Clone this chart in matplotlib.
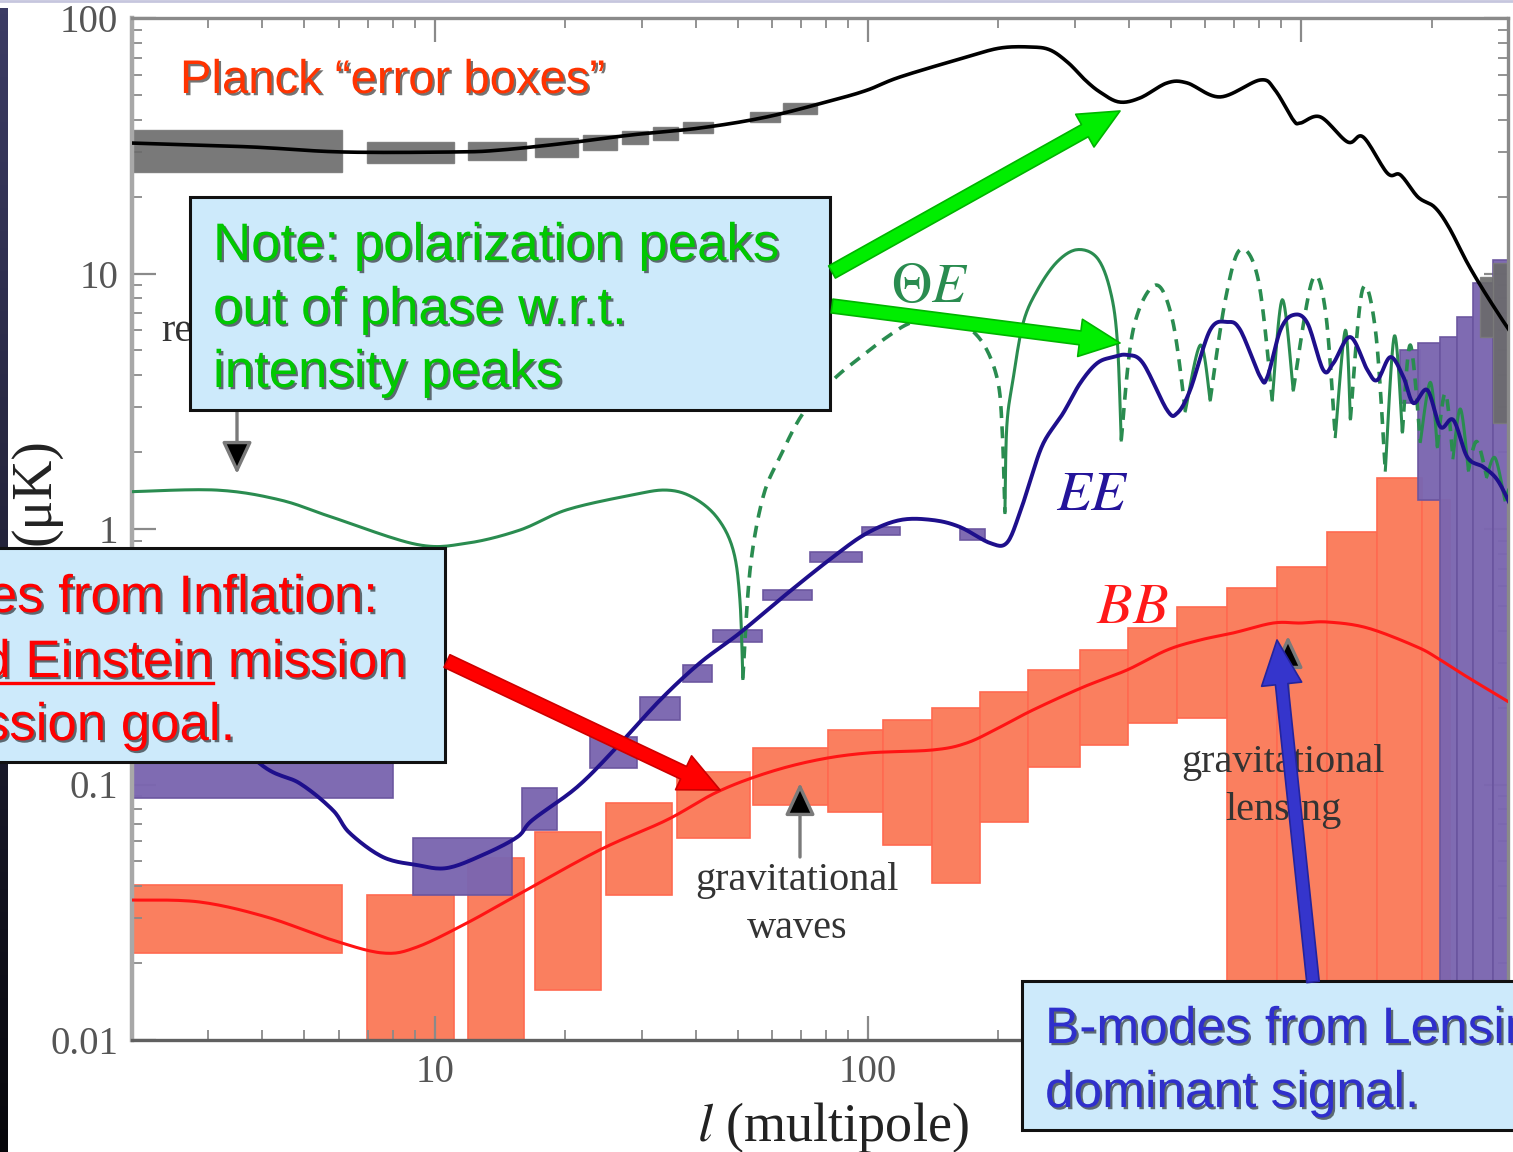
import numpy as np
import matplotlib.pyplot as plt
import matplotlib.patheffects as pe
from matplotlib.patches import Rectangle, FancyArrowPatch, ArrowStyle
from matplotlib.lines import Line2D
from matplotlib.ticker import FuncFormatter, NullFormatter
from matplotlib.colors import LinearSegmentedColormap

plt.rcParams['font.family'] = ['Liberation Serif', 'DejaVu Serif']
plt.rcParams['mathtext.fontset'] = 'stix'

# ---- values: multipole l and amplitude (uK) ----
# temperature spectrum
tt_ell = [2, 3.74, 6.1, 11.1, 14.1, 20.2, 28.6, 40.9, 58.4, 83, 99.5, 118.6, 169, 202,
          237, 263, 290, 317, 343, 380, 425, 490, 545, 650, 804, 870, 958, 995, 1107,
          1280, 1390, 1580, 1694, 1860, 2030, 2190, 2417, 2630, 2881, 3040]
tt_val = [32.4, 31.3, 29.9, 29.9, 30.4, 32.4, 34.9, 37.1, 41.0, 47.7, 52.2, 58.8, 70.4, 76.3,
          77.0, 75, 66.7, 57.2, 51.3, 46.9, 48.7, 55.7, 55.7, 49.1, 57.2, 52.2, 39.9, 38.8, 41.0,
          32.7, 34.2, 24.7, 24.3, 19.9, 18.2, 15.2, 11.0, 8.62, 6.76, 5.9]

# temperature-polarization cross spectrum (signed; sign changes at repeated l)
te_ell = [2, 3.14, 4.39, 5.81, 9.09, 11.86, 15.7, 20.2, 28.6, 34.3, 39.4, 44.8, 48.8, 50.6, 51.4,
          51.4, 53.4, 57.2, 62.6, 70.8, 83.0, 94.3, 110.6, 125, 144, 163, 184, 199, 204, 207,
          207, 209, 216, 228, 246, 273, 304, 338, 362, 376, 384,
          384, 409, 460, 504, 540,
          540, 585, 616,
          616, 668, 723, 796, 857,
          857, 904, 958,
          958, 1060, 1136, 1198,
          1198, 1264, 1298,
          1298, 1383, 1483, 1563,
          1563, 1640, 1711,
          1711, 1785, 1883,
          1883, 1986, 2060,
          2060, 2150, 2240,
          2240, 2330, 2430,
          2430, 2540, 2680,
          2680, 2800, 2950,
          2950, 3100]
te_val = [1.40, 1.42, 1.30, 1.11, 0.87, 0.88, 0.99, 1.19, 1.36, 1.42, 1.33, 1.11, 0.83, 0.53, 0.26,
          -0.26, -0.69, -1.33, -1.91, -2.84, -3.83, -4.59, -5.64, -6.40, -6.76, -6.46, -5.35, -3.83, -2.44, -1.16,
          1.16, 2.51, 3.83, 6.40, 8.62, 11.1, 12.4, 11.5, 8.62, 5.49, 2.23,
          -2.23, -6.0, -9.0, -6.6, -2.9,
          2.9, 5.25, 3.2,
          -3.2, -7.9, -12.4, -9.4, -3.2,
          3.2, 7.9, 3.5,
          -3.5, -9.4, -7.2, -2.3,
          2.3, 6.0, 2.7,
          -2.7, -8.6, -6.0, -1.7,
          1.7, 5.7, 2.4,
          -2.4, -5.25, -2.2,
          2.2, 3.75, 2.1,
          -2.1, -3.4, -1.9,
          1.9, 2.95, 1.7,
          -1.7, -2.2, -1.6,
          1.6, 1.9, 1.3,
          -1.3, -1.6]

# E-mode polarization
ee_ell = [2, 2.8, 3.94, 4.88, 5.81, 6.36, 7.59, 9.09, 10.66, 12.9, 15.5, 16.8, 21.3, 26.3, 33.1,
          40.9, 50.6, 63.6, 83, 99.5, 118.6, 141, 163, 191, 209, 224, 237, 254, 282, 309, 338,
          368, 396, 431, 490, 517, 554, 616, 675, 723, 804, 835, 895, 958, 1033, 1124, 1186,
          1298, 1421, 1498, 1606, 1720, 1814, 1954, 2094, 2244, 2417, 2630, 2836, 3040]
ee_val = [0.28, 0.22, 0.121, 0.101, 0.0795, 0.0646, 0.052, 0.0484, 0.0471, 0.053, 0.0623, 0.0726,
          0.0977, 0.140, 0.214, 0.299, 0.392, 0.542, 0.777, 0.964, 1.084, 1.084, 1.018, 0.882,
          0.882, 1.156, 1.555, 2.17, 2.84, 3.73, 4.46, 4.71, 4.80, 4.46, 2.92, 2.84, 3.50, 6.01,
          6.46, 6.01, 3.94, 3.94, 6.01, 6.88, 6.40, 4.19, 4.46, 5.64, 4.19, 3.83, 4.71, 3.94,
          3.11, 3.50, 2.51, 2.67, 1.91, 1.75, 1.555, 1.24]

# B-mode polarization
bb_ell = [2, 2.86, 4.09, 5.81, 7.59, 9.09, 11.86, 15.5, 24.0, 34.3, 44.8, 58.4, 76.2, 99.5, 141,
          169, 202, 240, 314, 396, 490, 585, 697, 861, 995, 1148, 1421, 1854, 2095, 2417, 3039]
bb_val = [0.0353, 0.0347, 0.0303, 0.0246, 0.0219, 0.0231, 0.0287, 0.0369, 0.0554, 0.0726, 0.0934,
          0.111, 0.1247, 0.1328, 0.1365, 0.1454, 0.168, 0.1956, 0.2407, 0.2806, 0.336, 0.368,
          0.392, 0.4285, 0.4285, 0.4325, 0.41, 0.345, 0.307, 0.2634, 0.2085]

# Planck error boxes: l range and amplitude range
tt_box_lo = [2, 6.97, 11.9, 17.0, 22.0, 27.0, 31.9, 37.4, 53.4, 63.7, 2590, 2776]
tt_box_hi = [6.10, 11.1, 16.2, 21.4, 26.3, 31.0, 36.4, 43.9, 62.7, 76.2, 2776, 3100]
tt_box_top = [36.5, 32.7, 32.7, 33.9, 34.9, 36.1, 37.4, 39.2, 43.0, 46.5, 9.69, 11.0]
tt_box_bot = [24.9, 27.1, 27.8, 28.6, 30.4, 32.1, 33.3, 35.5, 39.2, 42.0, 5.64, 2.60]

ee_box_lo = [2, 8.89, 15.9, 22.8, 29.7, 37.4, 43.9, 57.2, 73.5, 96.8, 163, 1693, 1862, 2094, 2292, 2497, 2776]
ee_box_hi = [8.0, 15.06, 19.1, 29.3, 36.8, 43.6, 56.9, 74.3, 96.8, 118.6, 186, 1883, 2094, 2292, 2497, 2776, 3100]
ee_box_top = [0.30, 0.0618, 0.0969, 0.1535, 0.220, 0.2937, 0.4026, 0.577, 0.813, 1.018, 1.0,
              5.02, 5.35, 5.64, 6.76, 9.18, 11.3]
ee_box_bot = [0.0886, 0.0369, 0.0664, 0.116, 0.179, 0.252, 0.361, 0.527, 0.743, 0.947, 0.906,
              3.11, 1.30, 0.005, 0.005, 0.005, 0.005]

bb_box_lo = [2, 6.97, 11.9, 17.0, 24.9, 36.2, 54.3, 80.8, 108.3, 140.5, 181.4, 234, 309, 399,
             517, 675, 880, 1148, 1498, 1903]
bb_box_hi = [6.10, 11.1, 16.1, 24.2, 35.3, 53.4, 80.8, 108.3, 140.5, 181.4, 234, 309, 399, 517,
             675, 880, 1148, 1498, 1903, 2209]
bb_box_top = [0.0404, 0.0369, 0.0516, 0.0652, 0.0847, 0.1119, 0.139, 0.1634, 0.1788, 0.1992,
              0.230, 0.2806, 0.336, 0.41, 0.495, 0.587, 0.71, 0.973, 1.58, 1.30]
bb_box_bot = [0.0219, 0.005, 0.005, 0.0157, 0.0369, 0.0617, 0.0832, 0.078, 0.058, 0.0412,
              0.0713, 0.1171, 0.1427, 0.174, 0.182, 0.005, 0.005, 0.005, 0.005, 0.005]

W, H = 1513, 1152


def P(px, py):
    # pixel position in the picture -> figure fraction
    return px / W, 1 - py / H


def smooth(x, y, n=14):
    # catmull-rom through the read points, in log-log space
    lx = np.log10(x)
    ly = np.log10(y)
    if len(lx) < 3:
        return np.array(x), np.array(y)
    px = np.concatenate([[lx[0]], lx, [lx[-1]]])
    py = np.concatenate([[ly[0]], ly, [ly[-1]]])
    t = np.linspace(0, 1, n, endpoint=False)
    ox, oy = [], []
    for i in range(1, len(px) - 2):
        for src, dst in ((px, ox), (py, oy)):
            p0, p1, p2, p3 = src[i - 1], src[i], src[i + 1], src[i + 2]
            dst.extend(0.5 * (2 * p1 + (p2 - p0) * t + (2 * p0 - 5 * p1 + 4 * p2 - p3) * t ** 2
                              + (-p0 + 3 * p1 - 3 * p2 + p3) * t ** 3))
    ox.append(lx[-1])
    oy.append(ly[-1])
    return 10 ** np.array(ox), 10 ** np.array(oy)


def boxes(lo, hi, bot, top, **kw):
    ax.bar(lo, np.subtract(top, bot), width=np.subtract(hi, lo), bottom=bot, align='edge', **kw)


fig = plt.figure(figsize=(W / 100, H / 100), dpi=100)

# dark strip on the left and thin line on top
sax = fig.add_axes([0, 0, 8 / W, 1 - 8 / H])
sax.imshow(np.linspace(0, 1, 200)[:, None], aspect='auto',
           cmap=LinearSegmentedColormap.from_list('strip', ['#3c3c64', '#07070b']))
sax.axis('off')
fig.add_artist(Line2D([0, 1], [1 - 1 / H] * 2, transform=fig.transFigure, color='#c6c6de', lw=2))

ax = fig.add_axes([132 / W, 1 - 1040 / H, (1508 - 132) / W, (1040 - 18) / H])
ax.set_xscale('log')
ax.set_yscale('log')
ax.set_xlim(2, 3000)
ax.set_ylim(0.01, 100)

# error boxes
boxes(bb_box_lo, bb_box_hi, bb_box_bot, bb_box_top,
      color='#fa7f5f', edgecolor='#ff6a50', lw=1.2, zorder=1)
boxes(ee_box_lo, ee_box_hi, ee_box_bot, ee_box_top,
      color='#7b66b0', edgecolor='#6a559f', lw=1.2, alpha=0.97, zorder=2)
boxes(tt_box_lo, tt_box_hi, tt_box_bot, tt_box_top,
      color='#6a6a6a', edgecolor='#7a7a7a', lw=1, alpha=0.9, zorder=2)

# spectra
ax.plot(*smooth(tt_ell, tt_val), color='black', lw=2.6, zorder=4)
ax.plot(*smooth(bb_ell, bb_val), color='#ff1414', lw=2.2, zorder=4)

te_ell_a = np.array(te_ell)
te_val_a = np.array(te_val)
start = 0
for i in range(1, len(te_val_a) + 1):
    if i == len(te_val_a) or np.sign(te_val_a[i]) != np.sign(te_val_a[i - 1]):
        seg_x, seg_y = smooth(te_ell_a[start:i], np.abs(te_val_a[start:i]))
        if te_val_a[start] > 0:
            ax.plot(seg_x, seg_y, color='#2a8c50', lw=2.2, zorder=4)
        else:
            ax.plot(seg_x, seg_y, color='#2a8c50', lw=2.6, dashes=(3.3, 2.3), zorder=4)
        start = i

ax.plot(*smooth(ee_ell, ee_val), color='#1e0f8c', lw=2.8, zorder=5)

# axes styling
ax.tick_params(which='both', direction='in', top=True, right=True, colors='#8a8a8a',
               labelcolor='#555555', labelsize=28, pad=10)
ax.tick_params(which='major', length=17, width=1.6)
ax.tick_params(which='minor', length=7, width=1.3)
for s in ax.spines.values():
    s.set_color('#8a8a8a')
    s.set_linewidth(2.4)
ax.spines['left'].set_color('#a8a8a8')
ax.spines['left'].set_linewidth(3.2)
ax.spines['bottom'].set_color('#606060')
fmt = FuncFormatter(lambda v, _: f'{v:g}')
ax.xaxis.set_major_formatter(fmt)
ax.yaxis.set_major_formatter(fmt)
ax.xaxis.set_minor_formatter(NullFormatter())
ax.yaxis.set_minor_formatter(NullFormatter())

fig.text(*P(833, 1141), r'$l$ (multipole)', fontsize=39, color='#222222', ha='center', va='baseline')
fig.text(*P(35, 438), '(μK)', fontsize=40, color='#222222', rotation=90,
         ha='center', va='top', zorder=5)

# curve labels
fig.text(*P(930, 302), r'$\Theta E$', fontsize=40, color='#2a8c50', ha='center', va='baseline', zorder=5)
fig.text(*P(1093, 510), r'$EE$', fontsize=41, color='#24149a', ha='center', va='baseline', zorder=5)
fig.text(*P(1132, 623), r'$BB$', fontsize=42, color='#ff1a1a', ha='center', va='baseline', zorder=5)

serif_gray = dict(fontsize=29, color='#333333', ha='center', va='baseline', zorder=5)
fig.text(*P(797, 890), 'gravitational', **serif_gray)
fig.text(*P(797, 938), 'waves', **serif_gray)
fig.text(*P(1283, 772), 'gravitational', **serif_gray)
fig.text(*P(1283, 820), 'lensing', **serif_gray)
fig.text(*P(161, 341), 'reionization', fontsize=29, color='#333333', ha='left', va='baseline', zorder=5)


def small_arrow(a, b):
    fig.add_artist(FancyArrowPatch(P(*a), P(*b), transform=fig.transFigure,
                                   arrowstyle=ArrowStyle('-|>', head_length=0.9, head_width=0.42),
                                   mutation_scale=22, ec='#7a7a7a', fc='black', lw=2.4,
                                   shrinkA=0, shrinkB=0, zorder=6))


small_arrow((237, 411), (237, 474))
small_arrow((800, 857), (800, 783))
small_arrow((1288, 700), (1288, 636))

# callout boxes
for x0, y0, x1, y1 in [(190, 197, 830, 410), (-10, 548, 445, 762), (1022, 981, 1530, 1130)]:
    fig.add_artist(Rectangle(P(x0, y1), (x1 - x0) / W, (y1 - y0) / H, transform=fig.transFigure,
                             fc='#cdeafb', ec='#111111', lw=2.2, zorder=10))

shadow = [pe.withSimplePatchShadow(offset=(1.6, -1.6), shadow_rgbFace='black', alpha=0.55)]
sans = ['Liberation Sans', 'DejaVu Sans']


def callout(px, py, s, color, size=38, ha='left'):
    fig.text(*P(px, py), s, color=color, fontsize=size, family=sans, ha=ha, va='baseline',
             zorder=11, path_effects=shadow)


callout(180, 93, 'Planck \u201cerror boxes\u201d', '#ff3300', size=34)
callout(213, 260, 'Note: polarization peaks', '#00c800', size=38)
callout(213, 324, 'out of phase w.r.t.', '#00c800', size=38)
callout(213, 387, 'intensity peaks', '#00c800', size=38)
callout(378, 612, 'B-modes from Inflation:', '#ff0000', ha='right')
callout(406, 677, 'Beyond Einstein mission', '#ff0000', ha='right')
callout(235, 740, 'mission goal.', '#ff0000', ha='right')
fig.add_artist(Line2D([0, 213 / W], [1 - 683 / H] * 2, transform=fig.transFigure,
                      color='#ff0000', lw=2.4, zorder=11))
callout(1045, 1043, 'B-modes from Lensing:', '#2f2fcc', size=37)
callout(1045, 1107, 'dominant signal.', '#2f2fcc', size=37)


def big_arrow(a, b, fc, ec, tail=10, head_w=27, head_l=29):
    fig.add_artist(FancyArrowPatch(P(*a), P(*b), transform=fig.transFigure,
                                   arrowstyle=ArrowStyle.Simple(head_length=head_l, head_width=head_w,
                                                                tail_width=tail),
                                   mutation_scale=1, fc=fc, ec=ec, lw=1.2,
                                   shrinkA=0, shrinkB=0, zorder=12))


big_arrow((832, 272), (1120, 111), '#00ee00', '#00b400')
big_arrow((832, 306), (1120, 343), '#00ee00', '#00b400')
big_arrow((447, 661), (720, 790), '#ff0000', '#cc0000')
big_arrow((1313, 982), (1277, 640), '#3535cc', '#24249c', tail=9, head_w=29, head_l=32)

fig.savefig('out.png', dpi=100)
